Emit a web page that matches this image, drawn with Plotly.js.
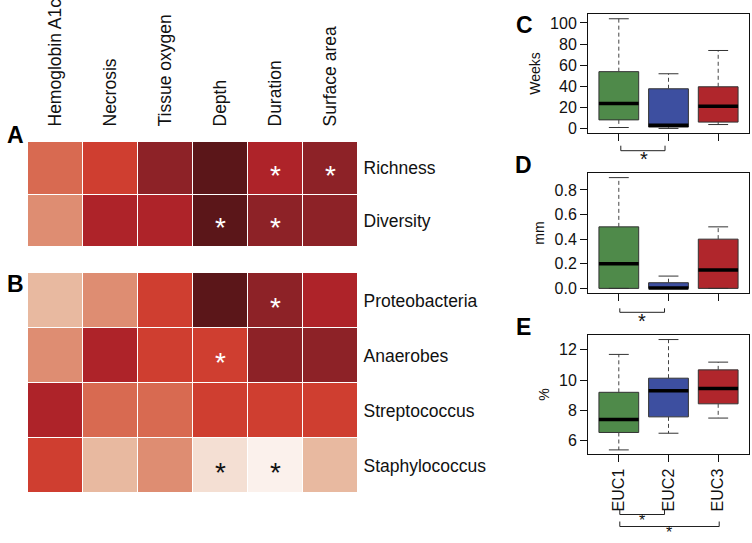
<!DOCTYPE html>
<html>
<head>
<meta charset="utf-8">
<script src="https://cdn.plot.ly/plotly-3.0.1.min.js"></script>
<style>
  html, body { margin: 0; padding: 0; background: #fff; }
  #chart { width: 752px; height: 543px; }
</style>
</head>
<body>
<div id="chart"></div>
<script>
const W = 752;
const H = 543;

// heatmap: columns are wound features, rows are diversity / taxa
const columns = ['Hemoglobin A1c', 'Necrosis', 'Tissue oxygen', 'Depth', 'Duration', 'Surface area'];
const diversityRows = ['Richness', 'Diversity'];
const diversityLevels = [
  [4, 5, 7, 8, 6, 7],
  [3, 6, 6, 8, 7, 7],
];
const taxaRows = ['Proteobacteria', 'Anaerobes', 'Streptococcus', 'Staphylococcus'];
const taxaLevels = [
  [2, 3, 5, 8, 7, 6],
  [3, 6, 5, 5, 7, 7],
  [6, 4, 4, 5, 5, 5],
  [5, 2, 3, 1, 0, 2],
];
const diversityStars = [['Richness', 'Duration'], ['Richness', 'Surface area'], ['Diversity', 'Depth'], ['Diversity', 'Duration']];
const taxaStars = [['Proteobacteria', 'Duration'], ['Anaerobes', 'Depth'], ['Staphylococcus', 'Depth'], ['Staphylococcus', 'Duration']];
const levelColors = ['#fbf1ec', '#f4dfd3', '#e8b9a0', '#de8d72', '#d86a51', '#cf3e30', '#ae2329', '#8d2227', '#5b1619'];

// box plots: [lower whisker, q1, median, q3, upper whisker] per group
const groups = ['EUC1', 'EUC2', 'EUC3'];
const groupColors = ['#4f8a4a', '#3d4fa0', '#b0262c'];
const weeksStats = [[1.2, 8.4, 24, 54, 104], [0.3, 1.6, 3.4, 37.8, 52], [4, 6.3, 21.3, 39.7, 74]];
const depthStats = [[0, 0, 0.2, 0.5, 0.9], [0, 0, 0.003, 0.046, 0.1], [0, 0, 0.15, 0.4, 0.5]];
const percentStats = [[5.4, 6.55, 7.4, 9.2, 11.7], [6.5, 7.58, 9.3, 10.13, 12.68], [7.5, 8.44, 9.45, 10.68, 11.19]];

const font = 'Liberation Sans, Arial, sans-serif';
const px = (x) => x / W;
const py = (y) => 1 - y / H;

function heatTrace(rows, levels, xa, ya) {
  return {
    type: 'heatmap',
    x: columns,
    y: rows,
    z: levels,
    zmin: 0,
    zmax: levelColors.length - 1,
    colorscale: levelColors.map((c, i) => [i / (levelColors.length - 1), c]),
    showscale: false,
    xgap: 1,
    ygap: 1,
    xaxis: xa,
    yaxis: ya,
    hoverinfo: 'skip',
  };
}

function starNotes(stars, rows, levels, xa, ya) {
  return stars.map(([row, col]) => {
    const level = levels[rows.indexOf(row)][columns.indexOf(col)];
    return {
      x: col, y: row, xref: xa, yref: ya,
      text: '*', showarrow: false, yshift: -7,
      font: { family: font, size: 28, color: level <= 2 ? '#111' : '#fff' },
    };
  });
}

function boxTraces(stats, xa, ya) {
  const wx = [], wy = [], cx = [], cy = [], mx = [], my = [];
  stats.forEach(([lo, q1, med, q3, hi], i) => {
    wx.push(i, i, null, i, i, null);
    wy.push(q3, hi, null, q1, lo, null);
    cx.push(i - 0.2, i + 0.2, null, i - 0.2, i + 0.2, null);
    cy.push(hi, hi, null, lo, lo, null);
    mx.push(i - 0.4, i + 0.4, null);
    my.push(med, med, null);
  });
  const common = { type: 'scatter', mode: 'lines', xaxis: xa, yaxis: ya, hoverinfo: 'skip', showlegend: false };
  return [
    { ...common, x: wx, y: wy, line: { color: '#444', width: 1, dash: '4px,3px' } },
    { ...common, x: cx, y: cy, line: { color: '#333', width: 1 } },
    {
      type: 'bar', xaxis: xa, yaxis: ya, showlegend: false, hoverinfo: 'skip',
      x: groups.map((_, i) => i),
      base: stats.map((s) => s[1]),
      y: stats.map((s) => s[3] - s[1]),
      width: 0.8,
      marker: { color: groupColors, line: { color: '#333', width: 1 } },
    },
    { ...common, x: mx, y: my, line: { color: '#000', width: 3.5 } },
  ];
}

const heatX = { domain: [px(28), px(358)], showgrid: false, zeroline: false, showline: false, ticks: '' };
const heatY = {
  showgrid: false, zeroline: false, showline: false, autorange: 'reversed', side: 'right',
  ticks: 'outside', ticklen: 1, tickcolor: 'rgba(0,0,0,0)',
  tickfont: { family: font, size: 17.5, color: '#111' },
};

function boxX(labels) {
  return {
    domain: [px(588), px(749)],
    range: [-0.62, 2.62],
    tickvals: [0, 1, 2],
    ticktext: groups,
    showticklabels: labels,
    tickangle: -90,
    ticks: 'outside', ticklen: 7, tickcolor: '#111',
    showline: true, mirror: true, linecolor: '#111', linewidth: 1,
    showgrid: false, zeroline: false,
    tickfont: { family: font, size: 16, color: '#111' },
  };
}

function boxY(top, bottom, range, tickvals, title, fmt) {
  return {
    domain: [py(bottom), py(top)],
    range,
    tickvals,
    tickformat: fmt,
    ticks: 'outside', ticklen: 7, tickcolor: '#111',
    showline: true, mirror: true, linecolor: '#111', linewidth: 1,
    showgrid: false, zeroline: false,
    tickfont: { family: font, size: 16, color: '#111' },
    title: { text: title, standoff: 6, font: { family: font, size: 14, color: '#111' } },
  };
}

const traces = [
  heatTrace(diversityRows, diversityLevels, 'x', 'y'),
  heatTrace(taxaRows, taxaLevels, 'x2', 'y2'),
  ...boxTraces(weeksStats, 'x3', 'y3'),
  ...boxTraces(depthStats, 'x4', 'y4'),
  ...boxTraces(percentStats, 'x5', 'y5'),
];

function bracket(xa, a, b, yTop, yBottom) {
  return {
    type: 'path', xref: xa, yref: 'paper',
    path: `M ${a},${py(yTop)} L ${a},${py(yBottom)} L ${b},${py(yBottom)} L ${b},${py(yTop)}`,
    line: { color: '#222', width: 1 },
  };
}

// star under a bracket, placed by the bottom of its text box
function starNote(xa, x, boxBottom, size) {
  return {
    x, y: py(boxBottom), xref: xa, yref: 'paper', text: '*', showarrow: false,
    yanchor: 'bottom', font: { family: font, size, color: '#111' },
  };
}

function letter(text, x, y) {
  return { x: px(x), y: py(y), xref: 'paper', yref: 'paper', text: `<b>${text}</b>`, showarrow: false, xanchor: 'center', yanchor: 'middle', font: { family: font, size: 23, color: '#000' } };
}

const layout = {
  width: W,
  height: H,
  margin: { l: 0, r: 0, t: 0, b: 0 },
  paper_bgcolor: '#fff',
  plot_bgcolor: '#fff',
  showlegend: false,
  barmode: 'overlay',
  font: { family: font, color: '#111' },
  xaxis: { ...heatX, side: 'top', tickangle: -90, ticks: 'outside', ticklen: 11, tickcolor: 'rgba(0,0,0,0)', tickfont: { family: font, size: 17.5, color: '#111' } },
  yaxis: { ...heatY, domain: [py(247), py(142)] },
  xaxis2: { ...heatX, anchor: 'y2', showticklabels: false },
  yaxis2: { ...heatY, anchor: 'x2', domain: [py(493), py(273)] },
  xaxis3: { ...boxX(false), anchor: 'y3' },
  yaxis3: { ...boxY(14, 133, [-4, 108.5], [0, 20, 40, 60, 80, 100], 'Weeks', ''), anchor: 'x3' },
  xaxis4: { ...boxX(false), anchor: 'y4' },
  yaxis4: { ...boxY(173.3, 292.7, [-0.035, 0.935], [0, 0.2, 0.4, 0.6, 0.8], 'mm', '.1f'), anchor: 'x4' },
  xaxis5: { ...boxX(true), anchor: 'y5' },
  yaxis5: { ...boxY(334.7, 454.3, [5.11, 13.0], [6, 8, 10, 12], '%', ''), anchor: 'x5' },
  shapes: [
    bracket('x3', 0.04, 0.93, 145.7, 150.7),
    bracket('x4', 0.02, 0.92, 308.3, 312.3),
    bracket('x5', 0.02, 0.92, 509.5, 514.5),
    bracket('x5', 0.02, 2.02, 521.5, 526.5),
  ],
  annotations: [
    ...starNotes(diversityStars, diversityRows, diversityLevels, 'x', 'y'),
    ...starNotes(taxaStars, taxaRows, taxaLevels, 'x2', 'y2'),
    starNote('x3', 0.5, 172, 20),
    starNote('x4', 0.47, 334, 20),
    starNote('x5', 0.47, 531, 16),
    starNote('x5', 1.0, 542.5, 16),
    letter('A', 15, 135),
    letter('B', 15, 283.5),
    letter('C', 524, 24.5),
    letter('D', 523, 165),
    letter('E', 523, 326.5),
  ],
};

Plotly.newPlot('chart', traces, layout, { staticPlot: true, displayModeBar: false });
</script>
</body>
</html>
